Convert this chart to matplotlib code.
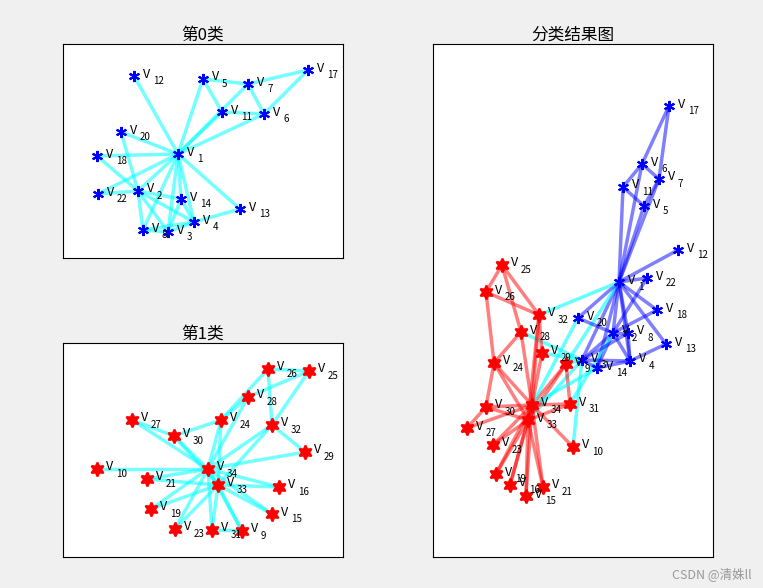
import matplotlib.pyplot as plt

plt.rcParams['font.family'] = ['Noto Sans CJK SC', 'DejaVu Sans']

# 空手道俱乐部网络的边（节点编号从1开始）
edges = [
    (1, 2), (1, 3), (1, 4), (1, 5), (1, 6), (1, 7), (1, 8), (1, 9), (1, 11), (1, 12),
    (1, 13), (1, 14), (1, 18), (1, 20), (1, 22), (1, 32),
    (2, 3), (2, 4), (2, 8), (2, 14), (2, 18), (2, 20), (2, 22), (2, 31),
    (3, 4), (3, 8), (3, 9), (3, 10), (3, 14), (3, 28), (3, 29), (3, 33),
    (4, 8), (4, 13), (4, 14), (5, 7), (5, 11), (6, 7), (6, 11), (6, 17), (7, 17),
    (9, 31), (9, 33), (9, 34), (10, 34), (14, 34), (15, 33), (15, 34), (16, 33), (16, 34),
    (19, 33), (19, 34), (20, 34), (21, 33), (21, 34), (23, 33), (23, 34),
    (24, 26), (24, 28), (24, 30), (24, 33), (24, 34), (25, 26), (25, 28), (25, 32),
    (26, 32), (27, 30), (27, 34), (28, 34), (29, 32), (29, 34), (30, 33), (30, 34),
    (31, 33), (31, 34), (32, 33), (32, 34), (33, 34),
]

class0 = [1, 2, 3, 4, 5, 6, 7, 8, 11, 12, 13, 14, 17, 18, 20, 22]
class1 = [9, 10, 15, 16, 19, 21, 23, 24, 25, 26, 27, 28, 29, 30, 31, 32, 33, 34]

# 各子图中节点的布局坐标
pos0 = {1: (178, 154), 2: (138, 191), 3: (168, 232), 8: (143, 230), 4: (194, 222),
        5: (203, 79), 6: (264, 114), 7: (248, 84), 11: (222, 112), 12: (134, 76),
        13: (240, 209), 14: (181, 199), 17: (308, 70), 18: (97, 156), 20: (121, 132),
        22: (98, 194)}
pos1 = {26: (268, 369), 25: (309, 371), 28: (248, 397), 24: (221, 420), 32: (272, 425),
        27: (132, 420), 30: (174, 436), 29: (305, 452), 10: (97, 469), 34: (208, 469),
        21: (147, 479), 33: (218, 485), 16: (279, 487), 19: (151, 509), 15: (272, 514),
        23: (175, 529), 31: (212, 530), 9: (242, 531)}
pos_all = {17: (669, 106), 6: (642, 164), 7: (659, 179), 11: (623, 187), 5: (644, 206),
           12: (678, 250), 1: (619, 282), 22: (647, 278), 18: (657, 310), 20: (578, 318),
           2: (613, 333), 8: (628, 333), 13: (666, 344), 4: (630, 361), 3: (582, 360),
           14: (597, 368), 9: (566, 364),
           25: (502, 265), 26: (486, 292), 32: (539, 315), 28: (521, 332), 29: (542, 353),
           24: (494, 363), 34: (532, 405), 30: (486, 407), 31: (570, 404), 27: (467, 428),
           33: (528, 420), 23: (493, 445), 10: (573, 447), 19: (496, 474), 16: (510, 485),
           21: (543, 487), 15: (526, 496)}

W, H = 763, 588
fig = plt.figure(figsize=(W / 100, H / 100), dpi=100, facecolor='#f0f0f0')

ASTER = (6, 2, 0)
HEXA = (6, 1, 0)


def make_ax(x0, y0, x1, y1):
    ax = fig.add_axes([x0 / W, 1 - y1 / H, (x1 - x0) / W, (y1 - y0) / H])
    ax.set_xlim(x0, x1)
    ax.set_ylim(y1, y0)
    ax.set_xticks([])
    ax.set_yticks([])
    for s in ax.spines.values():
        s.set_linewidth(0.8)
    return ax


def draw_nodes(ax, pos, nodes, color, marker, ms):
    for n in nodes:
        x, y = pos[n]
        ax.plot(x, y, marker=marker, color=color, ms=ms, mew=1.5, ls='none', zorder=5)
        ax.text(x + 9, y - 2, 'V', fontsize=9, va='center', ha='left', zorder=6)
        ax.text(x + 19, y + 5, str(n), fontsize=7, va='center', ha='left', zorder=6)


def draw_edges(ax, pos, nodes, color, alpha):
    for a, b in edges:
        if a in nodes and b in nodes:
            ax.plot([pos[a][0], pos[b][0]], [pos[a][1], pos[b][1]], color=color,
                    lw=2.5, alpha=alpha, zorder=2)


ax0 = make_ax(63, 44, 343, 258)
draw_edges(ax0, pos0, class0, 'cyan', 0.55)
draw_nodes(ax0, pos0, class0, 'blue', ASTER, 8)
ax0.set_title('第0类', fontsize=12, pad=3)

ax1 = make_ax(63, 343, 343, 557)
draw_edges(ax1, pos1, class1, 'cyan', 0.55)
draw_nodes(ax1, pos1, class1, 'red', HEXA, 10)
ax1.set_title('第1类', fontsize=12, pad=3)

ax2 = make_ax(433, 44, 713, 557)
for a, b in edges:
    if a in class0 and b in class0:
        c = 'blue'
    elif a in class1 and b in class1:
        c = 'red'
    else:
        c = 'cyan'
    ax2.plot([pos_all[a][0], pos_all[b][0]], [pos_all[a][1], pos_all[b][1]],
             color=c, lw=2.5, alpha=0.5 if c != 'cyan' else 0.6, zorder=2)
draw_nodes(ax2, pos_all, class0, 'blue', ASTER, 8)
draw_nodes(ax2, pos_all, class1, 'red', HEXA, 10)
ax2.set_title('分类结果图', fontsize=12, pad=3)

fig.text(0.985, 0.01, 'CSDN @清姝ll', ha='right', va='bottom', fontsize=9, color='#999999')

fig.savefig('out.png', dpi=100, facecolor=fig.get_facecolor())
